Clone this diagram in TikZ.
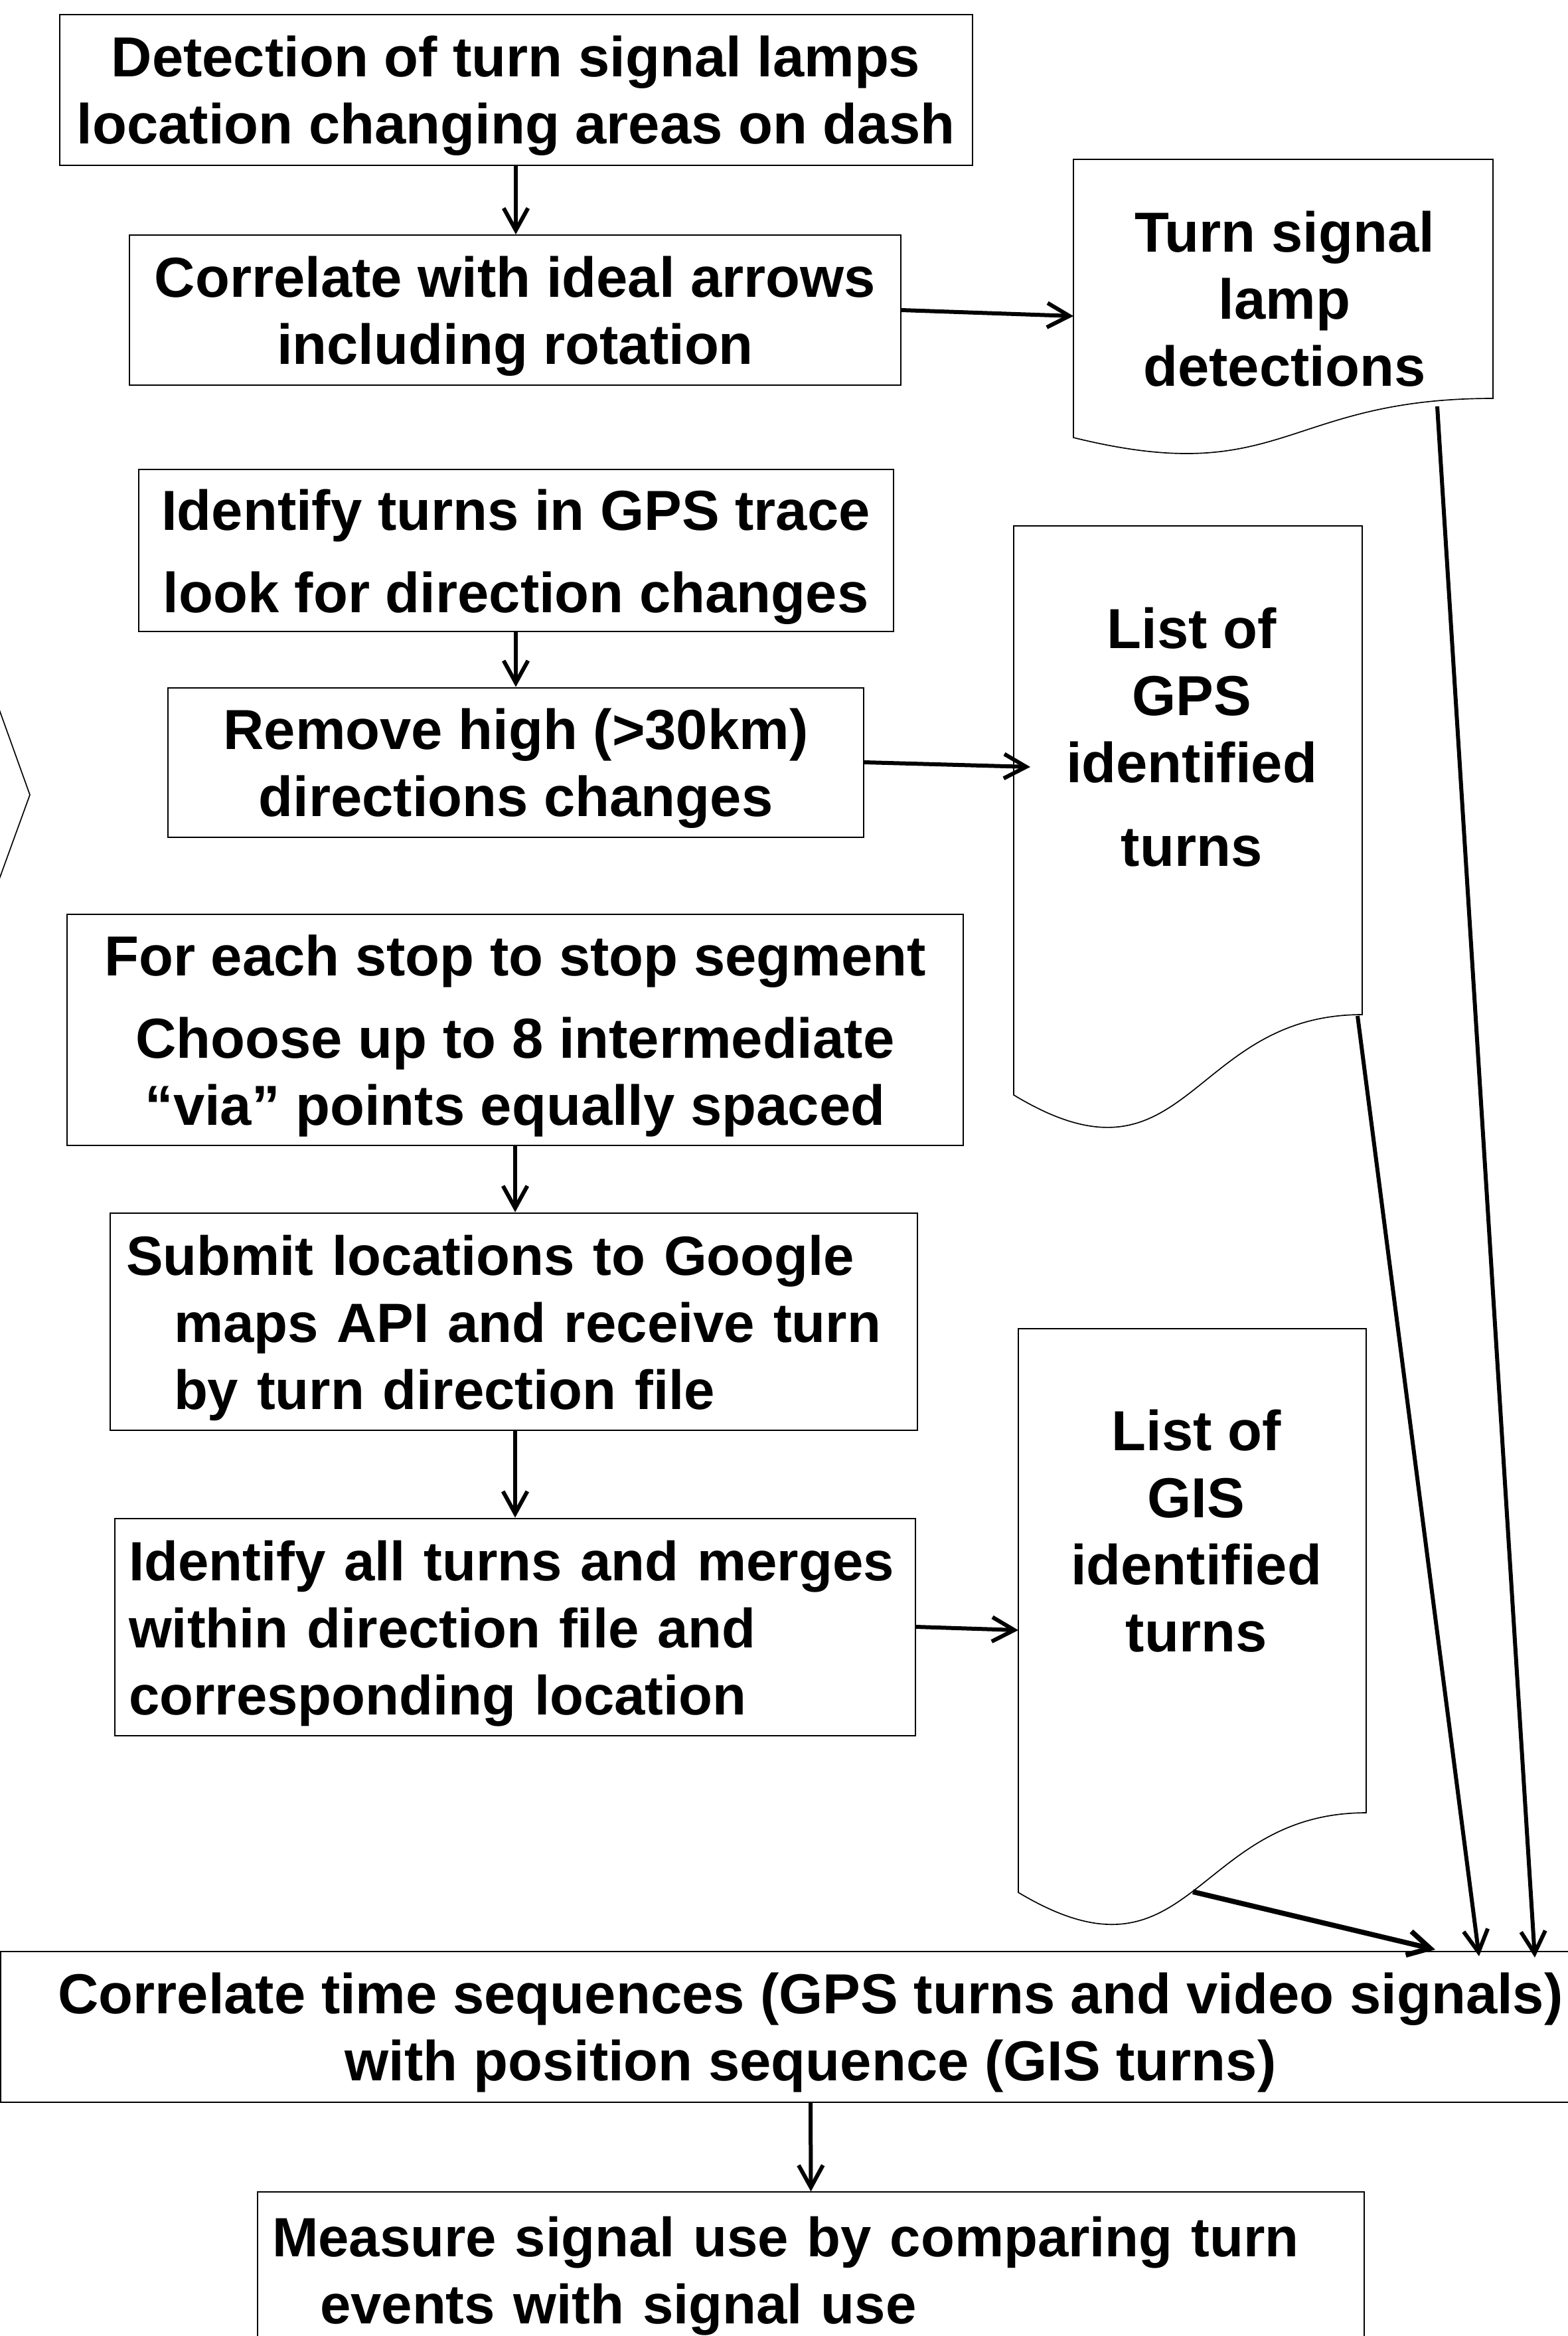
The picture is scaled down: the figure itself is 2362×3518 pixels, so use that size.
\documentclass[tikz,border=0pt]{standalone}
\usepackage{fontspec}
\setmainfont{Liberation Sans}
\usetikzlibrary{arrows.meta}
\newcommand{\flowfont}{\fontsize{25.5pt}{30.3pt}\selectfont\bfseries}
\newcommand{\flowfontsm}{\fontsize{25pt}{30.3pt}\selectfont\bfseries}
\newcommand{\topstrut}{\rule{0pt}{24pt}}
\begin{document}
\begin{tikzpicture}[x=0.3pt,y=-0.3pt,
  box/.style={draw,line width=0.6pt,inner sep=0pt,align=center,font=\flowfont},
  lbox/.style={draw,line width=0.6pt,inner ysep=0pt,align=left,font=\flowfontsm},
  doctext/.style={inner sep=0pt,align=center,font=\flowfont},
  docshape/.style={draw,line width=0.5pt},
  flow/.style={line width=1.8pt,-{Straight Barb[length=10pt,width=11pt]}},
  thickflow/.style={flow,line width=2.3pt},
  chev/.style={line width=0.5pt}]
\useasboundingbox (0,0) rectangle (2362,3518);
\clip (0,0) rectangle (2362,3518);
\fill[white] (0,0) rectangle (2362,3518);

% process boxes
\node[box,minimum width=412.5pt,minimum height=68.1pt] (b1) at (777,135) {\topstrut Detection of turn signal lamps\\location changing areas on dash};
\node[box,minimum width=348.6pt,minimum height=67.8pt] (b2) at (776,467) {\topstrut Correlate with ideal arrows\\including rotation};
\node[box,minimum width=341.1pt,minimum height=73.2pt] (b3) at (777,829) {\topstrut Identify turns in GPS trace\\[6.9pt]look for direction changes};
\node[box,minimum width=314.4pt,minimum height=67.5pt] (b4) at (777,1148) {\topstrut Remove high (>30km)\\directions changes};
\node[box,minimum width=405pt,minimum height=104.4pt] (b5) at (776,1551) {\topstrut For each stop to stop segment\\[6.9pt]Choose up to 8 intermediate\\“via” points equally spaced};
\node[lbox,text width=350.4pt,inner xsep=7.2pt,minimum height=98.1pt] (b6) at (774,1990) {\topstrut Submit~locations~to~Google\\\hspace*{21.6pt}maps~API~and~receive~turn\\\hspace*{21.6pt}by~turn~direction~file};
\node[lbox,text width=349.2pt,inner xsep=6.3pt,minimum height=98.1pt] (b7) at (776,2450) {\topstrut Identify~all~turns~and~merges\\within~direction~file~and\\corresponding~location};
\node[box,minimum width=732pt,minimum height=68.1pt] (b8) at (1221,3052) {\topstrut Correlate time sequences (GPS turns and video signals)\\with position sequence (GIS turns)};
\node[lbox,text width=486.9pt,inner xsep=6.6pt,minimum height=70pt] (b9) at (1221.5,3418) {\topstrut Measure~signal~use~by~comparing~turn\\\hspace*{21.6pt}events~with~signal~use};

% document shapes
\draw[docshape] (1617,240) -- (2249,240) -- (2249,600) .. controls (1933,600) and (1933,737) .. (1617,659) -- cycle;
\node[doctext] (d1) at (1935,450) {Turn signal\\lamp\\detections};
\draw[docshape] (1527,792) -- (2052,792) -- (2052,1528) .. controls (1789.5,1528) and (1789.5,1808) .. (1527,1649) -- cycle;
\node[doctext] (d2) at (1795,1110) {List of\\GPS\\identified\\[7.5pt]turns};
\draw[docshape] (1534,2001) -- (2058,2001) -- (2058,2730) .. controls (1796,2730) and (1796,3007) .. (1534,2850) -- cycle;
\node[doctext] (d3) at (1802,2306) {List of\\GIS\\identified\\turns};

% connector end points on document shapes and on the last box
\coordinate (d1in) at (1617,476);
\coordinate (d2in) at (1552,1155);
\coordinate (d3in) at (1534,2455);
\coordinate (d1out) at (2165,612);
\coordinate (d2out) at (2045,1530);
\coordinate (d3out) at (1797,2849);
\coordinate (t1) at (2312,2948);
\coordinate (t2) at (2228,2946);
\coordinate (t3) at (2162,2936);

% connectors
\draw[flow] (b1.south) -- (b1.south |- b2.north);
\draw[flow] (b3.south) -- (b3.south |- b4.north);
\draw[flow] (b5.south) -- (b5.south |- b6.north);
\draw[flow] (b5.south |- b6.south) -- (b5.south |- b7.north);
\draw[flow] (b2.east) -- (d1in);
\draw[flow] (b4.east) -- (d2in);
\draw[flow] (b7.east) -- (d3in);
\draw[flow] (d1out) -- (t1);
\draw[flow] (d2out) -- (t2);
\draw[thickflow] (d3out) -- (t3);
\draw[flow] (b8.south) -- (b9.north);

% partial chevron at the left edge
\draw[chev] (-20,1016) -- (45,1197) -- (-20,1376);
\end{tikzpicture}
\end{document}
